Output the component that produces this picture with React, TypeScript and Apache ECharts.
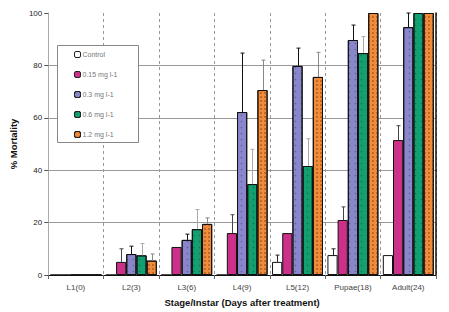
import React, { useEffect, useRef } from "react";
import * as echarts from "echarts";

const categories = ["L1(0)", "L2(3)", "L3(6)", "L4(9)", "L5(12)", "Pupae(18)", "Adult(24)"];
const seriesNames = ["Control", "0.15 mg l-1", "0.3 mg l-1", "0.6 mg l-1", "1.2 mg l-1"];

const control = [0, 0, 0, 0, 5, 7.6, 7.6];
const dose015 = [0, 5, 10.7, 16, 16, 21, 51.5];
const dose03 = [0, 8, 13.4, 62.2, 79.8, 89.7, 94.6];
const dose06 = [0, 7.5, 17.5, 34.7, 41.6, 84.7, 100];
const dose12 = [0, 5.5, 19.5, 70.6, 75.6, 100, 100];

// upper ends of error bars (null = none)
const controlErr = [null, null, null, null, 7.6, 10, null];
const dose015Err = [null, 10, null, 23, null, 26, 57];
const dose03Err = [null, 11, 15.6, 84.7, 86.6, 95.4, 100];
const dose06Err = [null, 12, 25, 48, 52, 91, null];
const dose12Err = [null, 8, 21.8, 82, 85, null, null];

const values = [control, dose015, dose03, dose06, dose12];
const errors = [controlErr, dose015Err, dose03Err, dose06Err, dose12Err];
const errColors = ["#222", "#444", "#111", "#aaa", "#888"];

const colors = ["#ffffff", "#cc3088", "#8a86cc", "#12a070", "#f08c3c"];
const decals: any[] = [
  null,
  null,
  { symbol: "circle", symbolSize: 0.5, dashArrayX: [3, 3], dashArrayY: [3, 3], color: "rgba(20,20,80,0.35)" },
  { symbol: "circle", symbolSize: 0.5, dashArrayX: [3, 3], dashArrayY: [3, 3], color: "rgba(0,40,20,0.35)" },
  { symbol: "rect", symbolSize: 1, dashArrayX: [2, 2], dashArrayY: [2, 2], color: "rgba(110,40,0,0.35)" },
];

const CAT_GAP = 0.08;

export default function App() {
  const ref = useRef<HTMLDivElement>(null);
  useEffect(() => {
    const chart = echarts.init(ref.current!, null, { renderer: "svg" });
    const errData: any[] = [];
    errors.forEach((arr, s) => {
      arr.forEach((u, c) => {
        if (u !== null) errData.push([c, values[s][c], u, s]);
      });
    });
    const barSeries = seriesNames.map((name, i) => ({
      name,
      type: "bar",
      data: values[i],
      barGap: "0%",
      barCategoryGap: CAT_GAP * 100 + "%",
      itemStyle: {
        color: colors[i],
        borderColor: "#111",
        borderWidth: 1,
        ...(decals[i] ? { decal: decals[i] } : {}),
      },
      z: 2,
    }));
    chart.setOption({
      animation: false,
      grid: { left: 39, right: 13, top: 13, bottom: 37 },
      legend: {
        orient: "vertical",
        left: 74,
        top: 50,
        padding: 0,
        itemWidth: 6,
        itemHeight: 6,
        itemGap: 11,
        z: 10,
        data: seriesNames,
        itemStyle: { borderColor: "#222", borderWidth: 1 },
        textStyle: { fontSize: 7, color: "#777", fontFamily: "Liberation Sans, Arial", lineHeight: 9, padding: [0, 0, 0, -3] },
      },
      graphic: [
        {
          type: "rect",
          z: 5,
          shape: { x: 57.5, y: 45.5, width: 81, height: 97 },
          style: { fill: "#ffffff", stroke: "#888", lineWidth: 1 },
        },
      ],
      xAxis: {
        type: "category",
        data: categories,
        name: "Stage/Instar (Days after treatment)",
        nameLocation: "middle",
        nameGap: 22,
        nameTextStyle: { fontSize: 9.5, fontWeight: "bold", color: "#111", fontFamily: "Liberation Sans, Arial" },
        axisLine: { lineStyle: { color: "#111", width: 1 } },
        axisTick: { show: true, length: 5, lineStyle: { color: "#666", type: "dashed" } },
        axisLabel: { fontSize: 8, color: "#444", margin: 8, fontFamily: "Liberation Sans, Arial" },
        splitLine: { show: true, interval: 0, lineStyle: { color: "#999", type: [3, 3], width: 1 } },
      },
      yAxis: [
        {
          type: "value",
          min: 0,
          max: 100,
          interval: 20,
          name: "% Mortality",
          nameLocation: "middle",
          nameGap: 27,
          nameRotate: 90,
          nameTextStyle: { fontSize: 9.5, fontWeight: "bold", color: "#111", fontFamily: "Liberation Sans, Arial" },
          axisLine: { show: true, lineStyle: { color: "#aaa" } },
          axisTick: { show: true, length: 4, lineStyle: { color: "#555" } },
          axisLabel: { fontSize: 8, color: "#222", margin: 6, fontFamily: "Liberation Sans, Arial" },
          splitLine: { show: true, showMaxLine: false, showMinLine: false, lineStyle: { color: "#999", width: 1 } },
        },
        {
          type: "value",
          min: 0,
          max: 100,
          position: "right",
          axisLine: { show: true, lineStyle: { color: "#111", width: 1.5 } },
          axisTick: { show: false },
          axisLabel: { show: false },
          splitLine: { show: false },
        },
      ],
      series: [
        ...barSeries,
        {
          type: "custom",
          z: 3,
          data: errData,
          renderItem: (params: any, api: any) => {
            const c = api.value(0);
            const s = api.value(3);
            const lo = api.coord([c, api.value(1)]);
            const hi = api.coord([c, api.value(2)]);
            const band = api.size([1, 0])[0];
            const bw = (band * (1 - CAT_GAP)) / 5;
            const x = Math.round(lo[0] - (band * (1 - CAT_GAP)) / 2 + bw * (s + 0.5)) + 0.5;
            const col = errColors[s];
            return {
              type: "group",
              children: [
                { type: "line", shape: { x1: x, y1: lo[1], x2: x, y2: hi[1] }, style: { stroke: col, lineWidth: 1 } },
                { type: "line", shape: { x1: x - 2, y1: hi[1], x2: x + 2, y2: hi[1] }, style: { stroke: col, lineWidth: 1 } },
              ],
            };
          },
        },
      ],
    });
    return () => chart.dispose();
  }, []);
  return <div ref={ref} style={{ width: 449, height: 312, position: "absolute", left: 0, top: 0 }} />;
}
